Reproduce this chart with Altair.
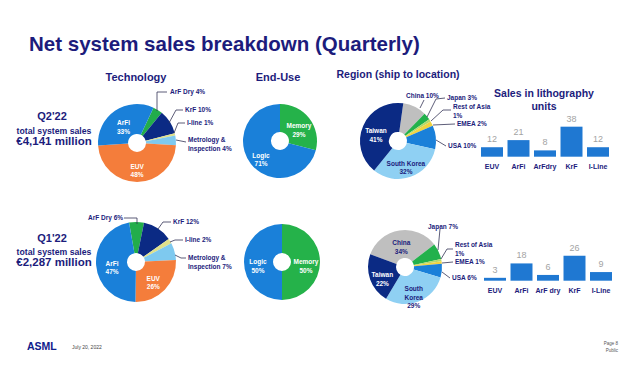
import math
import altair as alt
import pandas as pd

# ---------------- data ----------------
tech_cats = ["ArF Dry", "KrF", "I-line", "Metrology & Inspection", "EUV", "ArFi"]
tech_q2_pct = [4, 10, 1, 4, 48, 33]
tech_q1_pct = [6, 12, 2, 7, 26, 47]

enduse_cats = ["Memory", "Logic"]
enduse_q2_pct = [29, 71]
enduse_q1_pct = [50, 50]

region_cats = ["China", "Japan", "Rest of Asia", "EMEA", "USA", "South Korea", "Taiwan"]
region_q2_pct = [10, 3, 1, 2, 10, 32, 41]
region_q1_pct = [34, 7, 1, 1, 6, 29, 22]

litho_q2_cats = ["EUV", "ArFi", "ArFdry", "KrF", "I-Line"]
litho_q2_units = [12, 21, 8, 38, 12]
litho_q1_cats = ["EUV", "ArFi", "ArF dry", "KrF", "I-Line"]
litho_q1_units = [3, 18, 6, 26, 9]

quarters = ["Q2'22", "Q1'22"]
total_sales = ["€4,141 million", "€2,287 million"]

# ---------------- style / layout ----------------
OFF = 8
FONT = "Liberation Sans"
NAVY = "#1c1c7c"
BAR = "#1f78d2"
COLORS = {
    "ArF Dry": "#22ad4b", "KrF": "#0b2a84", "I-line": "#dfe08a",
    "Metrology & Inspection": "#7ec9ef", "EUV": "#f47d3b", "ArFi": "#1a80d9",
    "Memory": "#25b24a", "Logic": "#1a80d9",
    "China": "#bfbfbf", "Japan": "#22b14c", "Rest of Asia": "#b5d96a",
    "EMEA": "#f1d33f", "USA": "#1a80d9", "South Korea": "#8fd0f3", "Taiwan": "#0b2a84",
}


def P(v):
    return v - OFF


def pie(cats, vals, start_deg, cx, cy, r, white_lbl, dark_lbl):
    df = pd.DataFrame({
        "cat": cats, "v": vals, "idx": list(range(len(cats))),
        "lw": [white_lbl.get(c, "") for c in cats],
        "ld": [dark_lbl.get(c, "") for c in cats],
    })
    a0 = math.radians(start_deg)
    theta = alt.Theta("v:Q", stack=True, scale=alt.Scale(range=[a0, a0 + 2 * math.pi]))
    base = alt.Chart(df).encode(theta=theta, order=alt.Order("idx:Q"),
                                x=alt.value(P(cx)), y=alt.value(P(cy)))
    arc = base.mark_arc(outerRadius=r, innerRadius=9).encode(
        color=alt.Color("cat:N", legend=None,
                        scale=alt.Scale(domain=cats, range=[COLORS[c] for c in cats])))
    tw = base.mark_text(radius=24, lineBreak="\n", font=FONT, fontWeight="bold",
                        fontSize=6.5, color="white", baseline="middle").encode(
        detail="cat:N", text="lw:N")
    td = base.mark_text(radius=24, lineBreak="\n", font=FONT, fontWeight="bold",
                        fontSize=6.5, color=NAVY, baseline="middle").encode(
        detail="cat:N", text="ld:N")
    return alt.layer(arc, tw, td)


def bars(cats, vals, x0, x1, base_y, dmax, px, lab_y):
    df = pd.DataFrame({"cat": cats, "v": vals})
    xs = alt.X("cat:N", sort=cats, axis=None,
               scale=alt.Scale(range=[P(x0), P(x1)], paddingInner=0.17, paddingOuter=0))
    ys = alt.Y("v:Q", axis=None,
               scale=alt.Scale(domain=[0, dmax], range=[P(base_y), P(base_y - dmax * px)],
                               nice=False, zero=True))
    b = alt.Chart(df).mark_bar(color=BAR).encode(x=xs, y=ys)
    vt = alt.Chart(df).mark_text(baseline="bottom", dy=-3, font=FONT, fontSize=9,
                                 color="#a3a3a3").encode(x=xs, y=ys, text="v:Q")
    ct = alt.Chart(df).mark_text(baseline="middle", font=FONT, fontSize=7, fontWeight="bold",
                                 color=NAVY).encode(x=xs, y=alt.value(P(lab_y)), text="cat:N")
    return alt.layer(b, vt, ct)


def txt(s, x, y, size, align="center", weight="bold", color=NAVY, style="normal"):
    return alt.Chart(pd.DataFrame({"t": [s]})).mark_text(
        align=align, baseline="middle", font=FONT, fontSize=size, fontWeight=weight,
        color=color, fontStyle=style).encode(x=alt.value(P(x)), y=alt.value(P(y)), text="t:N")


# outside pie labels (annotation layout: text, x, y) and leader lines (polylines)
t2, t1 = tech_q2_pct, tech_q1_pct
r2, r1 = region_q2_pct, region_q1_pct
outer_labels = [
    (f"ArF Dry {t2[0]}%", 170, 92), (f"KrF {t2[1]}%", 185, 110), (f"I-line {t2[2]}%", 187, 123),
    (f"Metrology &\nInspection {t2[3]}%", 188, 140),
    (f"ArF Dry {t1[0]}%", 88, 218), (f"KrF {t1[1]}%", 173, 222), (f"I-line {t1[2]}%", 185, 240),
    (f"Metrology &\nInspection {t1[3]}%", 188, 258),
    (f"China {r2[0]}%", 406, 96), (f"Japan {r2[1]}%", 447, 98), (f"Rest of Asia\n{r2[2]}%", 453, 107),
    (f"EMEA {r2[3]}%", 457, 124), (f"USA {r2[4]}%", 448, 146),
    (f"Japan {r1[1]}%", 428, 227), (f"Rest of Asia\n{r1[2]}%", 455, 245),
    (f"EMEA {r1[3]}%", 455, 262), (f"USA {r1[4]}%", 452, 278),
]
leaders = [
    [(157, 111), (157, 92), (167, 92)],
    [(169, 123), (176, 110), (183, 110)],
    [(174, 133), (178, 123), (185, 123)],
    [(176, 140), (186, 142)],
    [(137, 224), (137, 218), (124, 218)],
    [(158, 229), (163, 222), (171, 222)],
    [(170, 242), (175, 240), (183, 240)],
    [(175, 255), (181, 258), (186, 258)],
    [(420, 108), (424, 100)],
    [(427, 117), (436, 99), (445, 98)],
    [(431, 121), (443, 110), (451, 110)],
    [(433, 125), (455, 124)],
    [(436, 140), (446, 146)],
    [(438, 250), (440, 229)],
    [(441, 259), (447, 249), (453, 249)],
    [(442, 263), (453, 262)],
    [(442, 272), (450, 278)],
]

lab_df = pd.DataFrame({"t": [l[0] for l in outer_labels],
                       "x": [P(l[1]) for l in outer_labels],
                       "y": [P(l[2]) for l in outer_labels]})
outer_text = alt.Chart(lab_df).mark_text(
    align="left", baseline="middle", lineBreak="\n", font=FONT, fontSize=6.5,
    fontWeight="bold", color=NAVY).encode(
    x=alt.X("x:Q", scale=None), y=alt.Y("y:Q", scale=None), text="t:N")

segs = []
for pl in leaders:
    for (xa, ya), (xb, yb) in zip(pl[:-1], pl[1:]):
        segs.append({"x": P(xa), "y": P(ya), "x2": P(xb), "y2": P(yb)})
leader_rules = alt.Chart(pd.DataFrame(segs)).mark_rule(color="#333355", strokeWidth=0.8).encode(
    x=alt.X("x:Q", scale=None), x2="x2:Q", y=alt.Y("y:Q", scale=None), y2="y2:Q")

# inside labels
tw_q2 = {"ArFi": f"ArFi\n{t2[5]}%", "EUV": f"EUV\n{t2[4]}%"}
tw_q1 = {"ArFi": f"ArFi\n{t1[5]}%", "EUV": f"EUV\n{t1[4]}%"}
ew_q2 = {"Memory": f"Memory\n{enduse_q2_pct[0]}%", "Logic": f"Logic\n{enduse_q2_pct[1]}%"}
ew_q1 = {"Memory": f"Memory\n{enduse_q1_pct[0]}%", "Logic": f"Logic\n{enduse_q1_pct[1]}%"}
rw_q2 = {"Taiwan": f"Taiwan\n{r2[6]}%"}
rd_q2 = {"South Korea": f"South Korea\n{r2[5]}%"}
rw_q1 = {"Taiwan": f"Taiwan\n{r1[6]}%"}
rd_q1 = {"South Korea": f"South\nKorea\n{r1[5]}%", "China": f"China\n{r1[0]}%"}

layers = [
    txt("Net system sales breakdown (Quarterly)", 29, 45, 20.5, align="left"),
    txt("Technology", 136, 78, 11),
    txt("End-Use", 278, 78, 11),
    txt("Region (ship to location)", 398, 75, 10.5),
    txt("Sales in lithography", 544, 94, 10.5),
    txt("units", 544, 107, 10.5),
    txt(quarters[0], 52, 117, 11),
    txt("total system sales", 54, 131, 8.7),
    txt(total_sales[0], 54, 142, 11.5),
    txt(quarters[1], 52, 239, 11),
    txt("total system sales", 54, 252, 8.7),
    txt(total_sales[1], 54, 263, 11.5),
    txt("ASML", 27, 347, 10.5, align="left", color="#10208c"),
    txt("July 20, 2022", 72, 347, 5, align="left", weight="normal", color="#444444"),
    txt("Page 8", 618, 344, 4.5, align="right", weight="normal", color="#555555"),
    txt("Public", 618, 351, 4.5, align="right", weight="normal", color="#555555"),
    pie(tech_cats, tech_q2_pct, 25, 137, 143, 39, tw_q2, {}),
    pie(tech_cats, tech_q1_pct, -10, 136, 262, 40, tw_q1, {}),
    pie(enduse_cats, enduse_q2_pct, 0, 280, 141, 37, ew_q2, {}),
    pie(enduse_cats, enduse_q1_pct, 0, 282, 262, 38, ew_q1, {}),
    pie(region_cats, region_q2_pct, 8, 398, 141, 38, rw_q2, rd_q2),
    pie(region_cats, region_q1_pct, -70, 405, 267, 37, rw_q1, rd_q1),
    bars(litho_q2_cats, litho_q2_units, 481, 609, 156.7, 40, 0.79, 166.5),
    bars(litho_q1_cats, litho_q1_units, 484, 612, 280.7, 30, 0.96, 290.5),
    leader_rules,
    outer_text,
]

chart = alt.layer(*layers).resolve_scale(
    x="independent", y="independent", theta="independent", color="independent"
).properties(
    width=624, height=364, autosize=alt.AutoSizeParams(type="none"), padding=0,
    background="white"
).configure_view(strokeWidth=0)

chart.save("out.html", embed_options={"renderer": "svg", "actions": False})
